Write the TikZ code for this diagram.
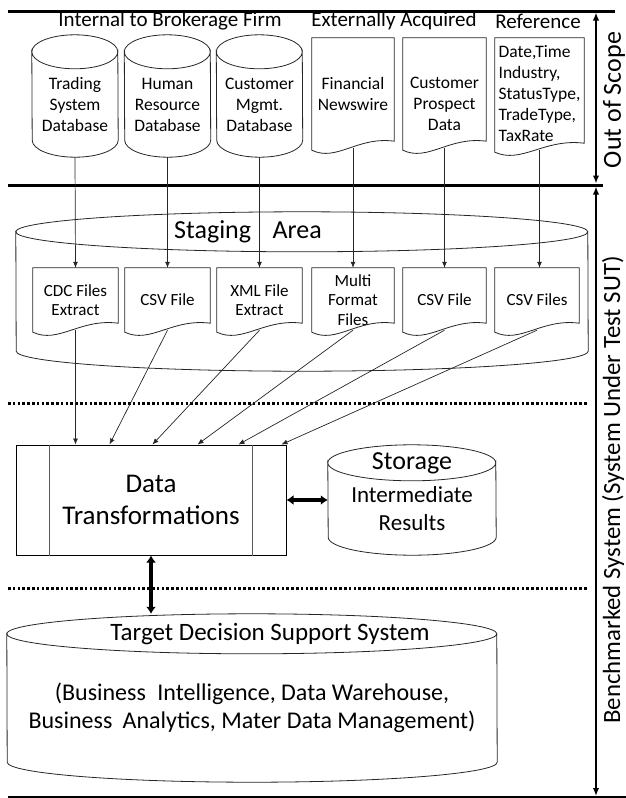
\documentclass[tikz,border=0pt]{standalone}
\usepackage{fontspec}
\setmainfont{Carlito}
\usetikzlibrary{calc}
\usetikzlibrary{arrows.meta}
\tikzset{
  rim/.style={draw=black!85, line width=0.8pt},
  lbl/.style={draw=none, fill=none, inner sep=0pt, align=center, font=\fontsize{17.5}{21}\selectfont},
  filelbl/.style={lbl, font=\fontsize{17}{19.5}\selectfont},
  headlbl/.style={lbl, font=\fontsize{21}{24}\selectfont},
  biglbl/.style={lbl, font=\fontsize{25}{28}\selectfont},
  bodylbl/.style={lbl, font=\fontsize{24}{28}\selectfont},
  midlbl/.style={lbl, font=\fontsize{23}{28}\selectfont},
  sidelbl/.style={lbl, rotate=90, font=\fontsize{26}{30}\selectfont},
  feed/.style={draw=black!85, line width=0.7pt, -{Latex[length=6pt,width=5pt]}},
  fat/.style={line width=3.2pt, {Latex[length=7pt,width=10pt]}-{Latex[length=7pt,width=10pt]}},
  side/.style={line width=1.8pt, {Latex[length=8pt,width=6.5pt]}-{Latex[length=8pt,width=6.5pt]}},
  rule/.style={line width=3pt},
  zone/.style={line width=3pt, dash pattern=on 2.6pt off 2.2pt}
}
% database: [style] name, centre x, rim y, bottom y, width, rim height, text
\newcommand{\dbase}[8][lbl]{
  \node[#1, minimum width=#6pt, minimum height={(#5-#4)*1pt}] (#2) at (#3,{(#4+#5)/2}) {#8};
  \draw[rim] (#2.north west) arc[start angle=180, end angle=360, x radius={#6*0.5pt}, y radius=#7pt]
    -- ($(#2.south east)+(0,-#7)$) arc[start angle=0, end angle=-180, x radius={#6*0.5pt}, y radius=#7pt] -- cycle;
  \draw[rim] (#2.north west) arc[start angle=180, end angle=0, x radius={#6*0.5pt}, y radius=#7pt];
  \coordinate (#2-top) at ($(#2.north)+(0,-#7)$);}
% document: [style] name, centre x, top y, bottom y, width, text
\newcommand{\docu}[7][lbl]{
  \node[#1, minimum width=#6pt, minimum height={(#5-#4)*1pt}] (#2) at (#3,{(#4+#5)/2}) {#7};
  \draw[rim] (#2.north west) -- (#2.north east) -- ($(#2.south east)+(0,-9)$)
    .. controls +(-0.45*#6,-5) and +(0.3*#6,12) .. (#2.south west) -- cycle;
  \coordinate (#2-out) at ($(#2.south)+(0,-2)$);}
\begin{document}
\begin{tikzpicture}[x=1pt,y=-1pt]
        \useasboundingbox (0,0) rectangle (626,798);
        % rules
        \coordinate (top-l) at (8,11);
        \coordinate (top-r) at (615,11);
        \coordinate (mid-l) at (8,185);
        \coordinate (mid-r) at (603,185);
        \coordinate (bot-l) at (8,797);
        \coordinate (bot-r) at (626,797);
        \draw[rule] (top-l) -- (top-r);
        \draw[rule] (mid-l) -- (mid-r);
        \draw[line width=1.6pt] (bot-l) -- (bot-r);
        \coordinate (dot1-l) at (8,403);
        \coordinate (dot1-r) at (588,403);
        \coordinate (dot2-l) at (8,588);
        \coordinate (dot2-r) at (588,588);
        \draw[zone] (dot1-l) -- (dot1-r);
        \draw[zone] (dot2-l) -- (dot2-r);
        % headings
        \node[headlbl] (hdr-int) at (170,21) {Internal to Brokerage Firm};
        \node[headlbl] (hdr-ext) at (394,21) {Externally Acquired};
        \node[headlbl] (hdr-ref) at (538,21) {Reference};
        % sources
        \dbase{trade}{75}{52}{157}{86}{17}{Trading\\System\\Database}
        \dbase{human}{167.5}{52}{157}{86}{17}{Human\\Resource\\Database}
        \dbase{cust}{259.5}{52}{157}{86}{17}{Customer\\Mgmt.\\Database}
        \docu{news}{353}{38}{150}{82}{Financial\\Newswire}
        \docu{prosp}{444.5}{38}{150}{83}{\raisebox{-16pt}[0pt][0pt]{\begin{tabular}{@{}c@{}}Customer\\Prospect\\Data\end{tabular}}}
        \docu{ref}{539.5}{38}{152}{89}{\begin{tabular}{@{}l@{}}Date,Time\\Industry,\\StatusType,\\TradeType,\\TaxRate\end{tabular}}
        % staging area
        \dbase{stage}{302}{232}{371}{572}{20}{}
        \node[lbl, font=\fontsize{26}{30}\selectfont] (stage-title) at ($(stage.north)+(-54,0)$) {Staging\hspace{0.6em} Area};
        \docu[filelbl]{cdc}{75.5}{268}{332}{85}{CDC Files\\Extract}
        \docu[filelbl]{csva}{167.5}{268}{332}{85}{CSV File}
        \docu[filelbl]{xml}{259.5}{268}{332}{85}{XML File\\Extract}
        \docu[filelbl]{multi}{353}{268}{332}{82}{Multi\\Format\\Files}
        \docu[filelbl]{csvb}{444.5}{268}{332}{83}{CSV File}
        \docu[filelbl]{csvc}{537}{268}{332}{84}{CSV Files}
        % sources to staging
        \draw[feed] (trade.south) -- (cdc.north);
        \draw[feed] (human.south) -- (csva.north);
        \draw[feed] (cust.south) -- (xml.north);
        \draw[feed] (news-out) -- (multi.north);
        \draw[feed] (prosp-out) -- (csvb.north);
        \draw[feed] (ref-out) -- (ref-out |- csvc.north);
        % transformations
        \node[lbl, draw, line width=1pt, minimum width=270pt, minimum height=110pt, font=\fontsize{27}{32}\selectfont] (dt) at (151,500) {Data\\Transformations};
        \draw[gray!70!black, line width=1pt] ($(dt.north west)+(34,0)$) -- ($(dt.south west)+(34,0)$);
        \draw[gray!70!black, line width=1pt] ($(dt.north east)+(-34,0)$) -- ($(dt.south east)+(-34,0)$);
        \coordinate (dt-in1) at ($(dt.north west)+(60,0)$);
        \coordinate (dt-in2) at ($(dt.north west)+(94,0)$);
        \coordinate (dt-in3) at ($(dt.north west)+(137,0)$);
        \coordinate (dt-in4) at ($(dt.north west)+(182,0)$);
        \coordinate (dt-in5) at ($(dt.north west)+(223,0)$);
        \coordinate (dt-in6) at ($(dt.north west)+(266,0)$);
        % staging to transformations
        \draw[feed] (cdc-out) -- (dt-in1);
        \draw[feed] (csva-out) -- (dt-in2);
        \draw[feed] (xml-out) -- (dt-in3);
        \draw[feed] (multi-out) -- (dt-in4);
        \draw[feed] (csvb-out) -- (dt-in5);
        \draw[feed] (csvc-out) -- (dt-in6);
        % storage
        \dbase[midlbl]{store}{412}{463}{555}{168}{18}{Intermediate\\Results}
        \node[lbl, font=\fontsize{26}{30}\selectfont] (store-title) at (store.north) {Storage};
        \draw[fat] (dt.east) -- (dt.east -| store.west);
        % target
        \dbase[bodylbl]{target}{252}{634}{782}{490}{20}{(Business\hspace{0.25em} Intelligence, Data Warehouse,\\Business\hspace{0.2em} Analytics, Mater Data Management)}
        \node[biglbl] (target-title) at ($(target.north)+(18,0)$) {Target Decision Support System};
        \draw[fat] (dt.south) -- (dt.south |- target-top);
        % scope arrows
        \coordinate (oos-a) at (596,11);
        \coordinate (oos-b) at (596,185);
        \coordinate (sut-a) at (596,185);
        \coordinate (sut-b) at (596,797);
        \draw[side, shorten <=1.5pt, shorten >=1.5pt] (oos-a) -- (oos-b);
        \draw[side, shorten <=1.5pt, shorten >=1pt] (sut-a) -- (sut-b);
        \node[sidelbl] (oos) at (614,100) {Out of Scope};
        \node[sidelbl, font=\fontsize{24.8}{30}\selectfont] (sut) at (613,490) {Benchmarked System (System Under Test SUT)};
\end{tikzpicture}
\end{document}
